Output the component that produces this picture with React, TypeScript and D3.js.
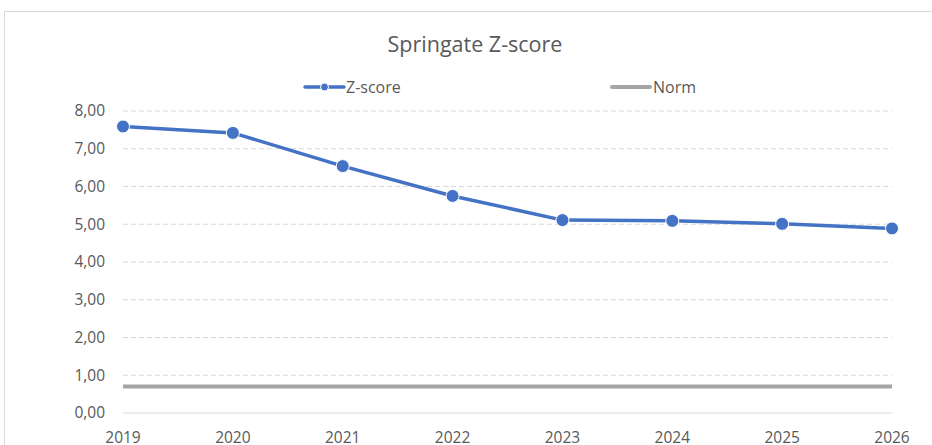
import React from "react";
import * as d3 from "d3";

const years = ["2019", "2020", "2021", "2022", "2023", "2024", "2025", "2026"];
const zScore = [7.59, 7.42, 6.54, 5.75, 5.11, 5.09, 5.01, 4.89];
const norm = [0.7, 0.7, 0.7, 0.7, 0.7, 0.7, 0.7, 0.7];
const yTicks = [0, 1, 2, 3, 4, 5, 6, 7, 8];

const width = 932;
const height = 445;
const font = "'Open Sans', 'Noto Sans', sans-serif";
const textColor = "#595959";

export default function App() {
  const x = d3.scalePoint<string>().domain(years).range([123, 892]);
  const y = d3.scaleLinear().domain([0, 8]).range([413, 111]);

  const line = d3
    .line<number>()
    .x((_, i) => x(years[i]) as number)
    .y((d) => y(d));

  const fmt = (v: number) => v.toFixed(2).replace(".", ",");

  return (
    <svg
      width={width}
      height={height}
      style={{ position: "absolute", left: 0, top: 0, background: "white" }}
    >
      {/* chart frame */}
      <rect x={4.5} y={11.5} width={940} height={450} fill="white" stroke="#d9d9d9" />

      <text
        x={475}
        y={52}
        textAnchor="middle"
        fontFamily={font}
        fontSize={21.5}
        fill={textColor}
      >
        Springate Z-score
      </text>

      {/* legend */}
      <g fontFamily={font} fontSize={16} fill={textColor}>
        <line x1={305} x2={344} y1={87} y2={87} stroke="#4472C4" strokeWidth={3.5} strokeLinecap="round" />
        <circle cx={324.5} cy={87} r={4} fill="#4472C4" stroke="white" strokeWidth={1} />
        <text x={346} y={92.5}>Z-score</text>
        <line x1={612} x2={650} y1={87} y2={87} stroke="#A5A5A5" strokeWidth={4} strokeLinecap="round" />
        <text x={653} y={92.5}>Norm</text>
      </g>

      {/* gridlines */}
      {yTicks.map((t) => (
        <g key={t}>
          <line
            x1={123}
            x2={892}
            y1={y(t)}
            y2={y(t)}
            stroke="#d9d9d9"
            strokeWidth={1}
            strokeDasharray={t === 0 ? undefined : "5,3"}
          />
          <text
            x={105}
            y={y(t)}
            dy="0.35em"
            textAnchor="end"
            fontFamily={font}
            fontSize={15.5}
            fill={textColor}
          >
            {fmt(t)}
          </text>
        </g>
      ))}

      {years.map((yr) => (
        <text
          key={yr}
          x={x(yr)}
          y={443}
          textAnchor="middle"
          fontFamily={font}
          fontSize={15.5}
          fill={textColor}
        >
          {yr}
        </text>
      ))}

      {/* norm */}
      <path d={line(norm) ?? ""} fill="none" stroke="#A5A5A5" strokeWidth={4} />

      {/* z-score */}
      <path d={line(zScore) ?? ""} fill="none" stroke="#4472C4" strokeWidth={3.5} />
      {zScore.map((v, i) => (
        <circle
          key={i}
          cx={x(years[i])}
          cy={y(v)}
          r={6.5}
          fill="#4472C4"
          stroke="white"
          strokeWidth={1}
        />
      ))}
    </svg>
  );
}
